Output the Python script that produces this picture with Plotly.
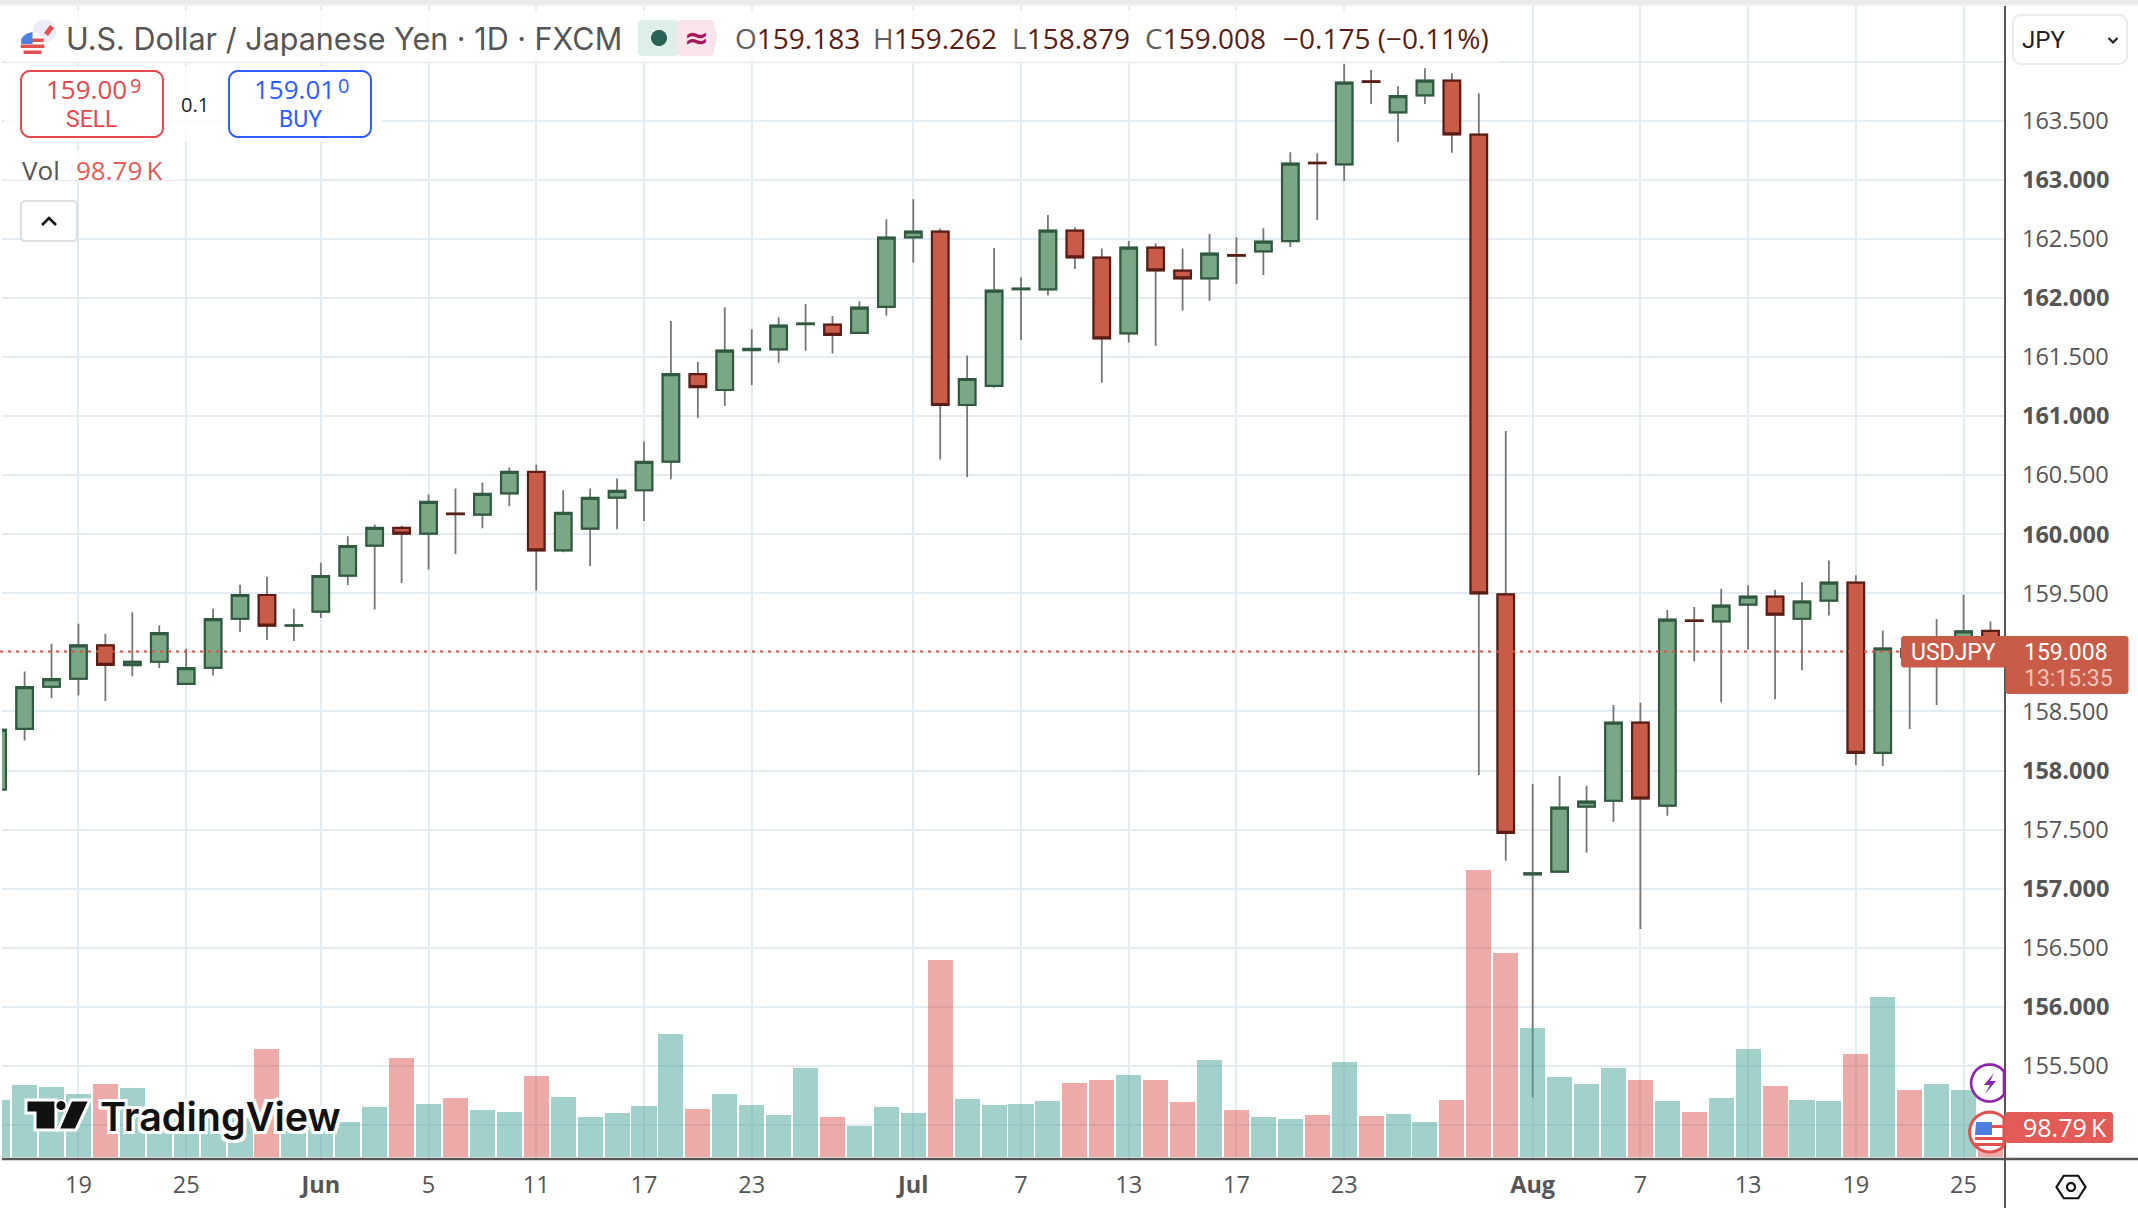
import math
import plotly.graph_objects as go

W = 2138
H = 1208
FONT = "Open Sans"

# one entry per daily bar, left to right
open_prices = [
    157.839, 158.353, 158.709, 158.777, 159.059, 158.893, 158.921, 158.734, 158.870, 159.285,
    159.486, 159.226, 159.345, 159.650, 159.904, 160.054, 160.006, 160.175, 160.167, 160.347,
    160.528, 159.864, 160.048, 160.311, 160.373, 160.616, 161.357, 161.222, 161.560, 161.566,
    161.780, 161.775, 161.705, 161.925, 162.515, 162.563, 161.095, 161.256, 162.075, 162.074,
    162.571, 162.342, 161.702, 162.427, 162.232, 162.167, 162.365, 162.396, 162.483, 163.146,
    163.133, 163.835, 163.573, 163.717, 163.841, 163.384, 159.492, 157.120, 157.143, 157.694,
    157.744, 158.405, 157.702, 159.270, 159.262, 159.404, 159.473, 159.285, 159.438, 159.591,
    158.149, 159.030, 159.000, 159.090, 159.183,
]
high_prices = [
    158.345, 158.839, 159.073, 159.243, 159.158, 159.339, 159.229, 159.031, 159.370, 159.573,
    159.641, 159.370, 159.760, 159.983, 160.082, 160.073, 160.336, 160.387, 160.438, 160.565,
    160.590, 160.373, 160.387, 160.472, 160.785, 161.806, 161.459, 161.922, 161.736, 161.837,
    161.950, 161.848, 161.973, 162.667, 162.836, 162.590, 161.515, 162.424, 162.176, 162.704,
    162.600, 162.421, 162.483, 162.464, 162.421, 162.543, 162.515, 162.591, 163.234, 163.226,
    163.982, 163.931, 163.793, 163.946, 163.903, 163.734, 160.875, 157.885, 157.954, 157.870,
    158.555, 158.574, 159.358, 159.385, 159.538, 159.568, 159.530, 159.595, 159.779, 159.653,
    159.186, 159.120, 159.282, 159.488, 159.262,
]
low_prices = [
    157.839, 158.254, 158.613, 158.636, 158.588, 158.799, 158.867, 158.734, 158.805, 159.172,
    159.105, 159.096, 159.291, 159.571, 159.364, 159.588, 159.703, 159.833, 160.051, 160.237,
    159.525, 159.847, 159.732, 160.042, 160.113, 160.466, 160.987, 161.086, 161.264, 161.453,
    161.555, 161.530, 161.700, 161.851, 162.300, 160.633, 160.485, 161.240, 161.645, 162.021,
    162.246, 161.284, 161.623, 161.597, 161.894, 161.978, 162.119, 162.196, 162.433, 162.661,
    162.992, 163.644, 163.322, 163.644, 163.231, 157.962, 157.235, 155.234, 157.140, 157.304,
    157.564, 156.657, 157.617, 158.926, 158.578, 159.025, 158.604, 158.849, 159.312, 158.046,
    158.038, 158.352, 158.555, 159.000, 158.879,
]
close_prices = [
    158.345, 158.706, 158.774, 159.059, 158.895, 158.921, 159.164, 158.867, 159.282, 159.486,
    159.226, 159.229, 159.647, 159.901, 160.054, 160.006, 160.274, 160.170, 160.342, 160.528,
    159.864, 160.181, 160.308, 160.367, 160.613, 161.357, 161.247, 161.555, 161.570, 161.767,
    161.785, 161.688, 161.919, 162.512, 162.563, 161.095, 161.315, 162.063, 162.080, 162.571,
    162.345, 161.659, 162.427, 162.235, 162.167, 162.376, 162.360, 162.478, 163.138, 163.142,
    163.824, 163.830, 163.711, 163.841, 163.387, 159.500, 157.472, 157.130, 157.686, 157.736,
    158.405, 157.763, 159.278, 159.266, 159.396, 159.473, 159.320, 159.431, 159.591, 158.149,
    159.033, 158.960, 159.120, 159.178, 159.008,
]
volume_k = [
    195, 246, 239, 215, 249, 236, 147, 150, 136, 133,
    368, 126, 139, 120, 171, 338, 181, 202, 161, 154,
    277, 205, 137, 151, 174, 419, 164, 215, 178, 144,
    304, 137, 106, 171, 151, 671, 198, 178, 181, 191,
    253, 263, 280, 263, 188, 331, 161, 137, 130, 144,
    324, 140, 147, 120, 195, 976, 694, 439, 272, 248,
    303, 262, 190, 153, 201, 367, 241, 194, 190, 350,
    544, 228, 248, 228, 98.79,
]
bar_index = list(range(len(close_prices)))

date_tick_bars = [3, 7, 12, 16, 20, 24, 28, 34, 38, 42, 46, 50, 57, 61, 65, 69, 73]
date_tick_labels = ["19", "25", "<b>Jun</b>", "5", "11", "17", "23", "<b>Jul</b>", "7", "13", "17", "23",
                    "<b>Aug</b>", "7", "13", "19", "25"]
price_ticks = [155.0, 155.5, 156.0, 156.5, 157.0, 157.5, 158.0, 158.5, 159.0, 159.5, 160.0,
               160.5, 161.0, 161.5, 162.0, 162.5, 163.0, 163.5, 164.0]
# 159 and 164 sit under the price badge and the currency box, they only keep their grid line
price_tick_labels = ["" if p in (159.0, 164.0) else f"<b>{p:.3f}</b>" if p == int(p) else f"{p:.3f}"
                     for p in price_ticks]

GRID = "#e3ebf3"
GREEN_FILL = "#7aa786"
GREEN_EDGE = "#2f5a40"
RED_FILL = "#c95c48"
RED_EDGE = "#5a1c14"
WICK = "#767676"
AXIS = "#555555"
TEAL_BAR = "rgba(69,163,153,0.5)"
RED_BAR = "rgba(217,87,81,0.5)"

# page pixels of the plot frame
LEFT, RIGHT, TOP, BOTTOM = 2, 2005, 6, 1159


def fx(x):
    return x / W


def fy(y):
    return 1 - y / H


def poly(points, close=True):
    d = "M" + " L".join(f"{fx(x):.5f},{fy(y):.5f}" for x, y in points)
    return d + (" Z" if close else "")


def rounded(x0, y0, x1, y1, r):
    pts = []
    for cx, cy, a0 in [(x1 - r, y0 + r, -90), (x1 - r, y1 - r, 0), (x0 + r, y1 - r, 90), (x0 + r, y0 + r, 180)]:
        for k in range(7):
            a = math.radians(a0 + k * 15)
            pts.append((cx + r * math.cos(a), cy + r * math.sin(a)))
    return poly(pts)


def circle(cx, cy, r, x_max=None):
    pts = []
    for k in range(48):
        a = 2 * math.pi * k / 48
        x = cx + r * math.cos(a)
        if x_max is not None:
            x = min(x, x_max)
        pts.append((x, cy + r * math.sin(a)))
    return poly(pts)


shapes = []
annotations = []


def add_path(path, fill="rgba(0,0,0,0)", line=None, width=0):
    shapes.append(dict(type="path", xref="paper", yref="paper", path=path, fillcolor=fill,
                       line=dict(color=line or "rgba(0,0,0,0)", width=width), layer="above"))


def add_text(x, y, text, size, color, anchor="left", family=FONT, **font_extra):
    annotations.append(dict(xref="paper", yref="paper", x=fx(x), y=fy(y), text=text, showarrow=False,
                            xanchor=anchor, yanchor="middle", borderpad=0,
                            font=dict(family=family, size=size, color=color, **font_extra)))


fig = go.Figure()

# wicks first, in grey
fig.add_trace(go.Candlestick(
    x=bar_index, open=open_prices, high=high_prices, low=low_prices, close=close_prices,
    whiskerwidth=0, hoverinfo="skip", showlegend=False,
    increasing=dict(line=dict(color=WICK, width=1.8), fillcolor=GREEN_FILL),
    decreasing=dict(line=dict(color=WICK, width=1.8), fillcolor=RED_FILL),
))
# then the bodies with their dark edge
body_top = [max(o, c) for o, c in zip(open_prices, close_prices)]
body_bottom = [min(o, c) for o, c in zip(open_prices, close_prices)]
fig.add_trace(go.Candlestick(
    x=bar_index, open=open_prices, high=body_top, low=body_bottom, close=close_prices,
    whiskerwidth=0, hoverinfo="skip", showlegend=False,
    increasing=dict(line=dict(color=GREEN_EDGE, width=2.2), fillcolor=GREEN_FILL),
    decreasing=dict(line=dict(color=RED_EDGE, width=2.2), fillcolor=RED_FILL),
))
volume_colors = [TEAL_BAR if c >= o else RED_BAR for o, c in zip(open_prices, close_prices)]
fig.add_trace(go.Bar(
    x=bar_index, y=volume_k, yaxis="y2", width=0.93, marker=dict(color=volume_colors, line=dict(width=0)),
    hoverinfo="skip", showlegend=False,
))

# top band of the page
shapes.append(dict(type="rect", xref="paper", yref="paper", x0=0, x1=1, y0=fy(5.5), y1=1,
                   fillcolor="#ebebeb", line=dict(width=0), layer="above"))
# frame lines run past the plot area
shapes.append(dict(type="line", xref="paper", yref="paper", x0=fx(LEFT), x1=1, y0=fy(BOTTOM), y1=fy(BOTTOM),
                   line=dict(color=AXIS, width=2.6), layer="above"))
shapes.append(dict(type="line", xref="paper", yref="paper", x0=fx(RIGHT), x1=fx(RIGHT), y0=fy(TOP), y1=0,
                   line=dict(color=AXIS, width=2), layer="above"))

# last price line
shapes.append(dict(type="line", xref="paper", yref="y", x0=0, x1=fx(RIGHT), y0=close_prices[-1], y1=close_prices[-1],
                   line=dict(color=RED_FILL, width=2, dash="3px,5px"), layer="above"))

# white veils behind the legend rows
add_path(rounded(4, 10, 1503, 62, 4), fill="rgba(255,255,255,0.8)")
add_path(rounded(4, 66, 382, 142, 4), fill="rgba(255,255,255,0.8)")
add_path(rounded(4, 150, 180, 180, 4), fill="rgba(255,255,255,0.8)")

# title row
add_path(circle(44.5, 31, 11.5), fill="#ecebf7")
add_path(poly([(44, 33), (50, 25), (54, 28), (48, 36)]), fill="#e2504f")
add_path(circle(32.5, 44, 12), fill="#ffffff")
for stripe_y in (38.5, 44.5, 50.5):
    half = math.sqrt(max(144 - (stripe_y + 1.5 - 44) ** 2, 0))
    add_path(poly([(32.5 - half, stripe_y), (32.5 + half, stripe_y), (32.5 + half, stripe_y + 3.5), (32.5 - half, stripe_y + 3.5)]),
             fill="#e2504f")
add_path(poly([(21, 44), (22.5, 37), (27, 33.5), (32.5, 32), (32.5, 44)]), fill="#4d7fe0")
add_text(65, 39, "U.S. Dollar / Japanese Yen · 1D · FXCM", 30.5, "#555555", family="Inter")

add_path(rounded(638, 20, 678, 56, 4), fill="#deeee9")
add_path(circle(656, 38, 18), fill="#deeee9")
add_path(rounded(677, 20, 714, 56, 4), fill="#f9e4ec")
add_path(circle(699, 38, 18), fill="#f9e4ec")
add_path(circle(659, 38, 8), fill="#2a6355")
add_text(696, 38, "<b>≈</b>", 30, "#a6185b", anchor="center", family="DejaVu Sans")

VALUE = "#5a1d15"
LETTER = "#5f5f5f"
for x, letter, value in [(734, "O", "159.183"), (872, "H", "159.262"), (1011, "L", "158.879"), (1144, "C", "159.008")]:
    add_text(x, 38, f'<span style="color:{LETTER}">{letter}</span>{value}', 28, VALUE)
add_text(1282, 38, "−0.175 (−0.11%)", 28, VALUE)

# sell and buy boxes
add_path(rounded(21, 71, 163, 137, 9), fill="#ffffff", line="#e5484d", width=2)
add_text(128, 89, "159.00", 26, "#e5484d", anchor="right")
add_text(129, 86, "9", 20, "#e5484d")
add_text(92, 119.5, "SELL", 23, "#e5484d", anchor="center", family="Roboto")
add_text(195, 104, "0.1", 20, "#222222", anchor="center")
add_path(rounded(229, 71, 371, 137, 9), fill="#ffffff", line="#2e5cff", width=2)
add_text(336, 89, "159.01", 26, "#2e5cff", anchor="right")
add_text(337, 86, "0", 20, "#2e5cff")
add_text(300, 119.5, "BUY", 23, "#2e5cff", anchor="center", family="Roboto")

add_text(21, 170, "Vol", 26, "#555555")
add_text(75, 170, "98.79\u2009K", 26, "#e25c5a")

# collapse button
add_path(rounded(21, 201, 77, 241, 4), fill="#ffffff", line="#dddddd", width=2)
add_path(poly([(42, 225), (49, 218), (56, 225)], close=False), line="#111111", width=2.6)

# currency box
add_path(rounded(2013, 15, 2127, 64, 8), fill="#ffffff", line="#ebebeb", width=2)
add_text(2021, 40, "JPY", 24, "#222222", family="Roboto")
add_path(poly([(2108.5, 38), (2113, 42.5), (2117.5, 38)], close=False), line="#222222", width=2.2)

# symbol and price badges
add_path(rounded(1901, 636, 2010, 667.5, 3), fill=RED_FILL)
add_text(1953, 652, "USDJPY", 23, "#ffffff", anchor="center", family="Roboto")
add_path(rounded(2005.5, 636, 2128.5, 694, 3), fill=RED_FILL)
add_text(2022.5, 652, "159.008", 23, "#ffffff", family="Roboto")
add_text(2022.5, 678, "13:15:35", 23, "#eec3b9", family="Roboto")

# small round icons over the bars
add_path(circle(1989.6, 1083, 18.5, x_max=RIGHT - 1), fill="#ffffff", line="#8e24aa", width=2.6)
add_path(poly([(1994, 1073), (1984, 1085), (1990, 1085), (1985, 1094), (1996, 1081), (1990, 1081)]), fill="#8e24aa")
add_path(circle(1989.6, 1132, 20, x_max=RIGHT - 1), fill="#ffffff", line="#e2504f", width=3)
add_path(poly([(1976, 1122), (1992, 1122), (1992, 1135), (1975, 1135)]), fill="#4d7fe0")
for stripe_y in (1137, 1143):
    add_path(poly([(1975, stripe_y), (2004, stripe_y), (2004, stripe_y + 3), (1975, stripe_y + 3)]), fill="#e2504f")
add_path(poly([(1992, 1125), (2004, 1125), (2004, 1128), (1992, 1128)]), fill="#e2504f")
add_path(rounded(2005, 1112, 2113, 1143, 3), fill="#e25b56")
add_text(2022, 1127, "98.79\u2009K", 25, "#ffffff")

# settings icon
hexagon = [(2071 + 14.5 * math.cos(math.radians(a)), 1187 + 13 * math.sin(math.radians(a))) for a in range(0, 360, 60)]
add_path(poly(hexagon), line="#111111", width=2.2)
add_path(circle(2071, 1187, 4), line="#111111", width=2.2)

# watermark
LOGO_EDGE = "#ffffff"
add_path(poly([(26, 1100), (56, 1100), (56, 1130), (35, 1130), (35, 1113), (26, 1113)]), fill="#111111", line=LOGO_EDGE, width=3)
add_path(circle(61, 1105.5, 5.5), fill="#111111", line=LOGO_EDGE, width=2)
add_path(poly([(71, 1100), (90, 1100), (76, 1130), (58, 1130)]), fill="#111111", line=LOGO_EDGE, width=3)
outline = ", ".join(f"{dx}px {dy}px 0 #fff" for dx in (-3, 0, 3) for dy in (-3, 0, 3))
add_text(99, 1117, "TradingView", 39.5, "#111111", family="Inter", weight=600, shadow=outline)

slot = 26.93
x0_bar = 24.6 - slot  # page x of bar 0

fig.update_layout(
    width=W,
    height=H,
    autosize=False,
    margin=dict(l=0, r=0, t=0, b=0),
    paper_bgcolor="#ffffff",
    plot_bgcolor="#ffffff",
    showlegend=False,
    bargap=0,
    boxgap=0.12,
    font=dict(family=FONT, color="#555555"),
    xaxis=dict(
        domain=[fx(LEFT), fx(RIGHT)],
        range=[(LEFT - x0_bar) / slot, (RIGHT - x0_bar) / slot],
        rangeslider=dict(visible=False),
        tickmode="array",
        tickvals=date_tick_bars,
        ticktext=date_tick_labels,
        tickfont=dict(size=23.5, color="#555555"),
        ticks="",
        ticklabelstandoff=9,
        showgrid=True,
        gridcolor=GRID,
        gridwidth=1.6,
        zeroline=False,
        showline=False,
    ),
    yaxis=dict(
        domain=[fy(BOTTOM), fy(TOP)],
        range=[163 - (BOTTOM - 180) / 118.1, 163 + (180 - TOP) / 118.1],
        side="right",
        tickmode="array",
        tickvals=price_ticks,
        ticktext=price_tick_labels,
        tickfont=dict(size=23.5, color="#555555"),
        ticks="",
        ticklabelstandoff=16,
        showgrid=True,
        gridcolor=GRID,
        gridwidth=1.8,
        zeroline=False,
        showline=False,
    ),
    yaxis2=dict(
        overlaying="y",
        side="right",
        range=[-6.8, 3913],
        visible=False,
        showgrid=False,
    ),
    shapes=shapes,
    annotations=annotations,
)

fig.write_html("out.html", post_script="document.body.style.margin='0';", config=dict(displayModeBar=False))
